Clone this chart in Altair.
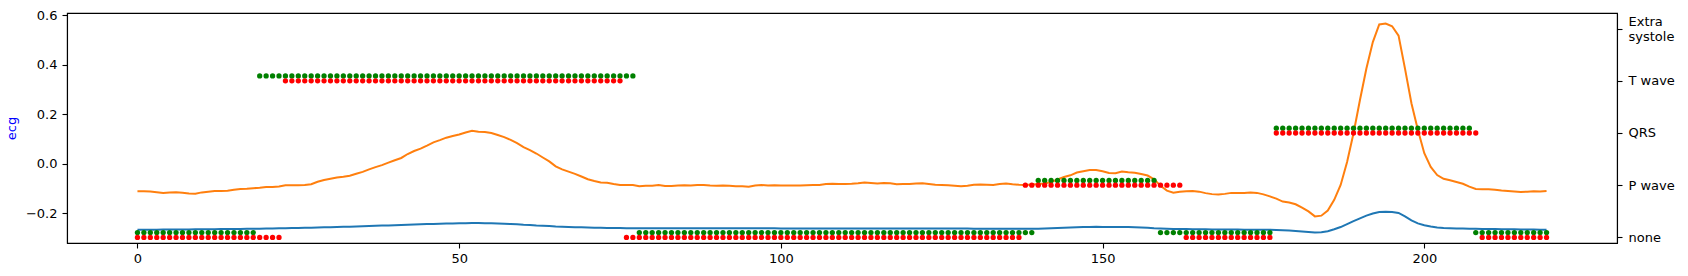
import json
import altair as alt
import pandas as pd

# sample index of the ECG excerpt
t = list(range(220))

# blue trace (ecg, smoothed)
blue = [
    -0.266, -0.266, -0.266, -0.266, -0.265, -0.265, -0.265, -0.265, -0.265, -0.264,
    -0.264, -0.264, -0.264, -0.263, -0.263, -0.263, -0.263, -0.262, -0.262, -0.262,
    -0.261, -0.261, -0.260, -0.260, -0.259, -0.259, -0.258, -0.258, -0.257, -0.256,
    -0.256, -0.255, -0.254, -0.254, -0.253, -0.252, -0.251, -0.250, -0.249, -0.249,
    -0.248, -0.247, -0.246, -0.245, -0.244, -0.243, -0.243, -0.242, -0.241, -0.241,
    -0.240, -0.240, -0.239, -0.239, -0.240, -0.240, -0.241, -0.242, -0.243, -0.244,
    -0.246, -0.247, -0.249, -0.250, -0.251, -0.253, -0.254, -0.255, -0.256, -0.256,
    -0.257, -0.258, -0.258, -0.259, -0.259, -0.259, -0.260, -0.260, -0.260, -0.260,
    -0.260, -0.260, -0.260, -0.260, -0.260, -0.260, -0.260, -0.260, -0.260, -0.260,
    -0.260, -0.260, -0.260, -0.260, -0.260, -0.260, -0.260, -0.260, -0.260, -0.260,
    -0.261, -0.261, -0.261, -0.261, -0.261, -0.261, -0.261, -0.261, -0.261, -0.261,
    -0.261, -0.261, -0.261, -0.261, -0.261, -0.261, -0.261, -0.261, -0.261, -0.261,
    -0.261, -0.261, -0.261, -0.261, -0.261, -0.261, -0.261, -0.261, -0.261, -0.261,
    -0.262, -0.262, -0.262, -0.262, -0.262, -0.262, -0.262, -0.262, -0.262, -0.262,
    -0.262, -0.261, -0.260, -0.259, -0.258, -0.257, -0.256, -0.255, -0.255, -0.254,
    -0.255, -0.255, -0.255, -0.255, -0.255, -0.256, -0.257, -0.258, -0.260, -0.261,
    -0.262, -0.263, -0.263, -0.263, -0.264, -0.264, -0.264, -0.265, -0.265, -0.265,
    -0.265, -0.265, -0.266, -0.266, -0.266, -0.266, -0.266, -0.267, -0.268, -0.269,
    -0.271, -0.273, -0.275, -0.277, -0.276, -0.272, -0.264, -0.255, -0.243, -0.231,
    -0.220, -0.209, -0.200, -0.194, -0.193, -0.194, -0.198, -0.212, -0.228, -0.240,
    -0.248, -0.253, -0.257, -0.259, -0.260, -0.261, -0.261, -0.262, -0.262, -0.263,
    -0.263, -0.263, -0.264, -0.264, -0.264, -0.265, -0.265, -0.265, -0.266, -0.266,
]

# orange trace (ecg, raw)
orange = [
    -0.110, -0.110, -0.111, -0.114, -0.117, -0.115, -0.114, -0.116, -0.119, -0.120,
    -0.115, -0.112, -0.109, -0.109, -0.108, -0.104, -0.101, -0.100, -0.098, -0.096,
    -0.093, -0.093, -0.091, -0.086, -0.086, -0.086, -0.085, -0.082, -0.072, -0.065,
    -0.060, -0.055, -0.052, -0.048, -0.040, -0.032, -0.022, -0.013, -0.005, 0.005,
    0.015, 0.024, 0.040, 0.052, 0.062, 0.074, 0.087, 0.096, 0.106, 0.113,
    0.119, 0.127, 0.134, 0.130, 0.129, 0.125, 0.117, 0.108, 0.097, 0.084,
    0.068, 0.056, 0.042, 0.026, 0.010, -0.010, -0.022, -0.031, -0.040, -0.051,
    -0.062, -0.069, -0.075, -0.076, -0.081, -0.085, -0.085, -0.085, -0.090, -0.088,
    -0.088, -0.085, -0.089, -0.089, -0.087, -0.086, -0.087, -0.085, -0.085, -0.087,
    -0.088, -0.087, -0.088, -0.090, -0.090, -0.092, -0.087, -0.085, -0.087, -0.086,
    -0.087, -0.087, -0.087, -0.087, -0.086, -0.085, -0.085, -0.081, -0.080, -0.081,
    -0.081, -0.080, -0.078, -0.075, -0.077, -0.079, -0.077, -0.078, -0.082, -0.081,
    -0.081, -0.079, -0.078, -0.081, -0.084, -0.085, -0.086, -0.088, -0.090, -0.088,
    -0.084, -0.083, -0.084, -0.085, -0.081, -0.079, -0.082, -0.084, -0.085, -0.083,
    -0.081, -0.079, -0.073, -0.063, -0.053, -0.046, -0.035, -0.030, -0.025, -0.025,
    -0.030, -0.037, -0.038, -0.031, -0.034, -0.036, -0.041, -0.047, -0.062, -0.088,
    -0.108, -0.116, -0.112, -0.110, -0.109, -0.112, -0.118, -0.122, -0.124, -0.121,
    -0.117, -0.117, -0.117, -0.115, -0.117, -0.123, -0.131, -0.140, -0.152, -0.156,
    -0.163, -0.177, -0.192, -0.212, -0.209, -0.188, -0.145, -0.085, 0.008, 0.124,
    0.258, 0.385, 0.492, 0.563, 0.567, 0.556, 0.518, 0.385, 0.245, 0.138,
    0.043, -0.012, -0.045, -0.060, -0.066, -0.073, -0.080, -0.092, -0.101, -0.102,
    -0.102, -0.104, -0.107, -0.109, -0.111, -0.113, -0.112, -0.110, -0.111, -0.109,
]

# classes shown on the right axis (bottom to top)
classes = ["none", "P wave", "QRS", "T wave", "Extra\nsystole"]

# run-length class sequences: (class, number of samples)
green_runs = [("none", 19), ("T wave", 59), ("none", 62), ("P wave", 19),
              ("none", 18), ("QRS", 31), ("none", 12)]
red_runs = [("none", 23), ("T wave", 53), ("none", 62), ("P wave", 25),
            ("none", 14), ("QRS", 32), ("none", 11)]

FONT = "DejaVu Sans"
FS = 13

code = {c: i for i, c in enumerate(classes)}


def expand(runs):
    out = []
    for name, n in runs:
        out.extend([name] * n)
    return out


green_lab = expand(green_runs)
red_lab = expand(red_runs)

lines_df = pd.DataFrame(
    {"t": t * 2, "v": blue + orange, "s": ["blue"] * len(t) + ["orange"] * len(t)}
)
green_df = pd.DataFrame({"t": t, "lvl": [code[c] for c in green_lab]})
red_df = pd.DataFrame({"t": t, "lvl": [code[c] for c in red_lab]})

# label expression for the class axis
expr = "''"
multi = []
for i in reversed(range(len(classes))):
    parts = classes[i].split("\n")
    if len(parts) > 1:
        multi.append(i)
    lit = json.dumps(parts) if len(parts) > 1 else json.dumps(parts[0])
    expr = f"datum.value == {i} ? {lit} : ({expr})"
multi_test = " || ".join(f"datum.value == {i}" for i in multi) or "false"

xscale = alt.Scale(domain=[-10.95, 229.95], nice=False, zero=False)
xaxis = alt.Axis(values=[0, 50, 100, 150, 200], format="d", title=None, grid=False,
                 tickSize=5, labelPadding=4, domainColor="black", tickColor="black",
                 labelColor="black", labelFont=FONT, labelFontSize=FS)

lines = alt.Chart(lines_df).mark_line(strokeWidth=2).encode(
    x=alt.X("t:Q", scale=xscale, axis=xaxis),
    y=alt.Y("v:Q", scale=alt.Scale(domain=[-0.3194, 0.6095], nice=False, zero=False),
            axis=alt.Axis(values=[-0.2, 0.0, 0.2, 0.4, 0.6], format=".1f", title="ecg",
                          titleColor="blue", titleFont=FONT, titleFontSize=FS,
                          titleFontWeight="normal", titleAngle=270, titleX=-56,
                          titleY=115, titleAlign="center", titleBaseline="middle",
                          grid=False, tickSize=5, labelPadding=5, domainColor="black",
                          tickColor="black", labelColor="black", labelFont=FONT,
                          labelFontSize=FS)),
    color=alt.Color("s:N", scale=alt.Scale(domain=["blue", "orange"],
                                           range=["#1f77b4", "#ff7f0e"]), legend=None),
)

yscale2 = alt.Scale(domain=[-0.107, 4.298], nice=False, zero=False)
yaxis2 = alt.Axis(orient="right", values=[0, 1, 2, 3, 4], labelExpr=expr, title=None,
                  grid=False, tickSize=5, labelPadding=6, domainColor="black",
                  tickColor="black", labelColor="black", labelFont=FONT,
                  labelFontSize=FS, labelOverlap=False, labelBound=False,
                  labelLineHeight=15.5, labelBaseline="middle",
                  labelOffset={"condition": {"test": multi_test, "value": -7.5}, "value": 0})

green = alt.Chart(green_df).mark_circle(size=28, opacity=1, color="green", yOffset=-4.8).encode(
    x=alt.X("t:Q", scale=xscale, axis=xaxis),
    y=alt.Y("lvl:Q", scale=yscale2, axis=yaxis2),
)
red = alt.Chart(red_df).mark_circle(size=28, opacity=1, color="red").encode(
    x=alt.X("t:Q", scale=xscale),
    y=alt.Y("lvl:Q", scale=yscale2, axis=yaxis2),
)

chart = alt.layer(lines, alt.layer(green, red)).resolve_scale(y="independent").properties(
    width=1550,
    height=230,
    autosize=alt.AutoSizeParams(type="none"),
    padding={"left": 67, "top": 13, "right": 71, "bottom": 33},
).configure_view(stroke="black", strokeWidth=1.1).configure_axis(domainWidth=1.1, tickWidth=1.1)

chart.save("out.html", embed_options={"renderer": "svg", "actions": False})
